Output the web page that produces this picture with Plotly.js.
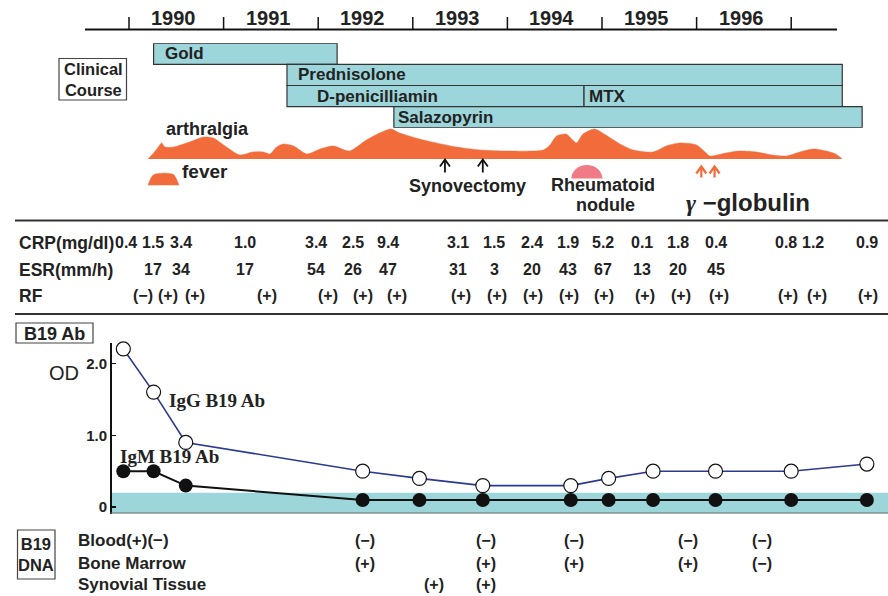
<!DOCTYPE html>
<html><head><meta charset="utf-8">
<script src="https://cdn.plot.ly/plotly-3.0.1.min.js"></script>
<style>html,body{margin:0;padding:0;background:#fff}#chart{width:888px;height:596px}</style>
</head><body><div id="chart"></div>
<script>
// ---------------- data ----------------
const years = [1990, 1991, 1992, 1993, 1994, 1995, 1996];
const yearBounds = [1990, 1991, 1992, 1993, 1994, 1995, 1996, 1997];

const drugs = ['Gold', 'Prednisolone', 'D-penicilliamin', 'MTX', 'Salazopyrin'];
const drugStart = [1990.26, 1991.67, 1991.67, 1994.81, 1992.80];
const drugEnd = [1992.20, 1997.54, 1994.81, 1997.54, 1997.75];
const drugRow = [0, 1, 2, 2, 3];

const arthDates = [1990.20, 1990.26, 1990.31, 1990.345, 1990.38, 1990.47, 1990.64, 1990.79, 1990.89, 1991.03,
  1991.17, 1991.31, 1991.42, 1991.49, 1991.56, 1991.63, 1991.74, 1991.88, 1992.02, 1992.16,
  1992.33, 1992.51, 1992.65, 1992.77, 1992.86, 1993.07, 1993.25, 1993.46, 1993.71, 1993.99,
  1994.38, 1994.45, 1994.52, 1994.62, 1994.69, 1994.73, 1994.80, 1994.92, 1995.04, 1995.19,
  1995.33, 1995.54, 1995.68, 1995.82, 1996.00, 1996.10, 1996.14, 1996.31, 1996.45, 1996.63,
  1996.80, 1996.95, 1997.09, 1997.23, 1997.37, 1997.47, 1997.54];
const arthLevel = [0, 6, 12, 16, 12, 12, 17, 22, 21, 12,
  4, 7, 7, 5, 12, 15, 13, 5, 10, 13,
  8, 19, 26, 30, 26, 20, 16, 12, 9, 8,
  9, 14, 23, 25, 19, 16, 25, 30, 24, 15,
  9, 7, 13, 16, 14, 6, 3, 6, 8, 7,
  4, 3, 7, 10, 8, 5, 0];

const feverDates = [1990.20, 1990.22, 1990.25, 1990.29, 1990.40, 1990.47, 1990.50, 1990.53];
const feverLevel = [0, 5, 10, 11.7, 12.3, 11, 6.7, 0];

const synovectomyDates = [1993.34, 1993.74];
const noduleDate = 1994.84;
const gammaDates = [1996.05, 1996.19];

const labDates = [1989.97, 1990.25, 1990.55, 1991.23, 1991.98, 1992.37, 1992.74, 1993.48, 1993.86,
  1994.26, 1994.64, 1995.01, 1995.42, 1995.80, 1996.21, 1996.95, 1997.23, 1997.80];
const crp = [0.4, 1.5, 3.4, 1.0, 3.4, 2.5, 9.4, 3.1, 1.5, 2.4, 1.9, 5.2, 0.1, 1.8, 0.4, 0.8, 1.2, 0.9];
const esr = [null, 17, 34, 17, 54, 26, 47, 31, 3, 20, 43, 67, 13, 20, 45, null, null, null];
const rfDates = [1990.15, 1990.41, 1990.70, 1991.46, 1992.10, 1992.47, 1992.83, 1993.51, 1993.89,
  1994.27, 1994.65, 1995.02, 1995.45, 1995.84, 1996.24, 1996.97, 1997.27, 1997.81];
const rf = ['(−)', '(+)', '(+)', '(+)', '(+)', '(+)', '(+)', '(+)', '(+)',
  '(+)', '(+)', '(+)', '(+)', '(+)', '(+)', '(+)', '(+)', '(+)'];

const abDates = [1989.94, 1990.26, 1990.60, 1992.47, 1993.07, 1993.74, 1994.67, 1995.07, 1995.54, 1996.20, 1997.00, 1997.80];
const igg = [2.2, 1.6, 0.9, 0.5, 0.4, 0.3, 0.3, 0.4, 0.5, 0.5, 0.5, 0.6];
const igm = [0.5, 0.5, 0.3, 0.1, 0.1, 0.1, 0.1, 0.1, 0.1, 0.1, 0.1, 0.1];
const cutoff = 0.2;

const dnaDates = [1992.49, 1993.22, 1993.77, 1994.70, 1995.91, 1996.69];
const blood = ['(−)', '', '(−)', '(−)', '(−)', '(−)'];
const marrow = ['(+)', '', '(+)', '(+)', '(+)', '(−)'];
const synovial = ['', '(+)', '(+)', '', '', ''];

// ---------------- layout helpers ----------------
const W = 888, H = 596;
const PXPERYEAR = 94.6, X0 = 1990 - 129 / PXPERYEAR, X1 = X0 + W / PXPERYEAR;
const xp = p => p / W;
const yp = p => 1 - p / H;
const F = 'Liberation Sans, Arial, sans-serif';
const SERIF = 'Liberation Serif, Times New Roman, serif';
const INK = '#222';
const TEAL = '#9dd6da';
const ORANGE = '#f26b3a';

function label(text, px, py, size, extra) {
  return Object.assign({
    text: text, xref: 'paper', yref: 'paper', x: xp(px), y: yp(py),
    showarrow: false, xanchor: 'center', yanchor: 'middle',
    font: { family: F, size: size, color: INK, weight: 700 }
  }, extra || {});
}
function dataText(text, date, py, size) {
  return {
    text: text, xref: 'x', yref: 'paper', x: date, y: yp(py),
    showarrow: false, xanchor: 'center', yanchor: 'middle',
    font: { family: F, size: size, color: INK, weight: 700 }
  };
}

const annotations = [];
const shapes = [];

function upArrow(date, tipPy, tailPy, color, width) {
  const hw = 5 / PXPERYEAR, depth = 7;
  shapes.push({ type: 'line', xref: 'x', yref: 'paper', x0: date, x1: date, y0: yp(tailPy), y1: yp(tipPy + 1), line: { color: color, width: width } });
  shapes.push({
    type: 'path', xref: 'x', yref: 'paper', line: { color: color, width: width },
    path: `M ${date - hw},${yp(tipPy + depth)} L ${date},${yp(tipPy)} L ${date + hw},${yp(tipPy + depth)}`
  });
}

// top time axis
shapes.push({ type: 'line', xref: 'paper', yref: 'paper', x0: xp(85), x1: xp(837), y0: yp(29.5), y1: yp(29.5), line: { color: '#111', width: 2 } });
yearBounds.forEach(b => shapes.push({ type: 'line', xref: 'x', yref: 'paper', x0: b, x1: b, y0: yp(17), y1: yp(29.5), line: { color: '#111', width: 1.5 } }));
years.forEach(y => annotations.push(dataText(String(y), y + 0.47, 18, 20)));

// clinical course box
shapes.push({ type: 'rect', xref: 'paper', yref: 'paper', x0: xp(59), x1: xp(126.5), y0: yp(100), y1: yp(58.5), line: { color: '#444', width: 1.2 }, fillcolor: 'white' });
annotations.push(label('Clinical<br>Course', 93, 79.5, 16.5));

// drug bar labels
const drugPad = { 'Gold': 9, 'Prednisolone': 9, 'D-penicilliamin': 28, 'MTX': 3, 'Salazopyrin': 2 };
drugs.forEach((d, i) => annotations.push({
  text: d, xref: 'x', yref: 'y2', x: drugStart[i], y: drugRow[i], xshift: drugPad[d],
  showarrow: false, xanchor: 'left', yanchor: 'middle',
  font: { family: F, size: 17, color: INK, weight: 700 }
}));

// arthralgia / fever labels
annotations.push(label('arthralgia', 207, 129, 18));
annotations.push(label('fever', 205, 171.5, 19));

// synovectomy arrows
synovectomyDates.forEach(d => upArrow(d, 159.5, 172.5, '#111', 1.8));
annotations.push(label('Synovectomy', 467, 186, 18));

// rheumatoid nodule (semicircle)
{
  const w = 15.5 / PXPERYEAR, k = 0.5523;
  const b = yp(178.5), t = yp(165), h = t - b, c = noduleDate;
  shapes.push({
    type: 'path', xref: 'x', yref: 'paper', fillcolor: '#f07a86', line: { width: 0 },
    path: `M ${c - w},${b} C ${c - w},${b + k * h} ${c - k * w},${t} ${c},${t} C ${c + k * w},${t} ${c + w},${b + k * h} ${c + w},${b} Z`
  });
}
annotations.push(label('Rheumatoid', 603, 185.5, 18));
annotations.push(label('nodule', 605, 205, 18));

// gamma globulin arrows
gammaDates.forEach(d => upArrow(d, 166.5, 177.5, ORANGE, 2.2));
annotations.push(label('<span style="font-family:Liberation Serif, serif"><i>γ</i></span> −globulin', 748, 202, 24));

// separators
shapes.push({ type: 'line', xref: 'paper', yref: 'paper', x0: xp(15), x1: 1, y0: yp(220.5), y1: yp(220.5), line: { color: '#333', width: 2 } });
shapes.push({ type: 'line', xref: 'paper', yref: 'paper', x0: xp(15), x1: 1, y0: yp(314), y1: yp(314), line: { color: '#333', width: 2 } });

// lab rows
const rowCRP = 243, rowESR = 269.5, rowRF = 296;
annotations.push(label('CRP(mg/dl)', 17, rowCRP, 17.5, { xanchor: 'left' }));
annotations.push(label('ESR(mm/h)', 17, rowESR, 17.5, { xanchor: 'left' }));
annotations.push(label('RF', 17, rowRF, 17.5, { xanchor: 'left' }));
labDates.forEach((d, i) => {
  annotations.push(dataText(crp[i].toFixed(1), d, rowCRP, 16));
  if (esr[i] !== null) annotations.push(dataText(String(esr[i]), d, rowESR, 16));
});
rfDates.forEach((d, i) => annotations.push(dataText(rf[i], d, rowRF, 16)));

// B19 Ab section
shapes.push({ type: 'rect', xref: 'paper', yref: 'paper', x0: xp(16), x1: xp(93), y0: yp(343), y1: yp(323), line: { color: '#444', width: 1.2 } });
annotations.push(label('B19 Ab', 54.5, 333.5, 18));
annotations.push(label('OD', 64, 373, 20, { font: { family: F, size: 20, color: INK, weight: 400 } }));
shapes.push({ type: 'rect', xref: 'paper', yref: 'y', layer: 'below', x0: xp(110), x1: 1, y0: -0.088, y1: cutoff, fillcolor: TEAL, line: { width: 0 } });
shapes.push({ type: 'line', xref: 'paper', yref: 'y', x0: xp(110), x1: 1, y0: -0.088, y1: -0.088, line: { color: '#666', width: 2 } });
annotations.push(label('IgG B19 Ab', 167, 401, 19, { xanchor: 'left', font: { family: SERIF, size: 19, color: INK, weight: 700 } }));
annotations.push(label('IgM B19 Ab', 118, 456.5, 19, { xanchor: 'left', font: { family: SERIF, size: 19, color: INK, weight: 700 } }));

// B19 DNA section
shapes.push({ type: 'rect', xref: 'paper', yref: 'paper', x0: xp(17.5), x1: xp(55), y0: yp(579), y1: yp(530), line: { color: '#444', width: 1.2 } });
annotations.push(label('B19<br>DNA', 36, 554.5, 16.5));
const rowBlood = 540.5, rowMarrow = 563.5, rowSyn = 584;
annotations.push(label('Blood(+)(−)', 76, rowBlood, 17, { xanchor: 'left' }));
annotations.push(label('Bone Marrow', 76, rowMarrow, 17, { xanchor: 'left' }));
annotations.push(label('Synovial Tissue', 76, rowSyn, 17, { xanchor: 'left' }));
dnaDates.forEach((d, i) => {
  if (blood[i]) annotations.push(dataText(blood[i], d, rowBlood, 16));
  if (marrow[i]) annotations.push(dataText(marrow[i], d, rowMarrow, 16));
  if (synovial[i]) annotations.push(dataText(synovial[i], d, rowSyn, 16));
});

// ---------------- traces ----------------
const traces = [
  {
    type: 'bar', orientation: 'h', xaxis: 'x', yaxis: 'y2',
    y: drugRow, base: drugStart, x: drugStart.map((s, i) => drugEnd[i] - s), width: 1,
    marker: { color: TEAL, line: { color: '#333', width: 1.2 } }, hoverinfo: 'skip'
  },
  {
    type: 'scatter', mode: 'lines', xaxis: 'x', yaxis: 'y3', x: arthDates, y: arthLevel,
    fill: 'tozeroy', fillcolor: ORANGE, line: { color: ORANGE, width: 0.5, shape: 'spline', smoothing: 0.7 }
  },
  {
    type: 'scatter', mode: 'lines', xaxis: 'x', yaxis: 'y4', x: feverDates, y: feverLevel,
    fill: 'tozeroy', fillcolor: ORANGE, line: { color: ORANGE, width: 0.5, shape: 'spline', smoothing: 0.6 }
  },
  {
    type: 'scatter', mode: 'lines+markers', xaxis: 'x', yaxis: 'y', x: abDates, y: igm, cliponaxis: false,
    line: { color: '#111', width: 2 }, marker: { color: '#111', size: 14, line: { width: 0 } }
  },
  {
    type: 'scatter', mode: 'lines+markers', xaxis: 'x', yaxis: 'y', x: abDates, y: igg, cliponaxis: false,
    line: { color: '#2b3990', width: 1.6 }, marker: { color: 'white', size: 14, line: { color: '#111', width: 1.2 } }
  }
];

const layout = {
  width: W, height: H, margin: { l: 0, r: 0, t: 0, b: 0 },
  paper_bgcolor: 'white', plot_bgcolor: 'rgba(0,0,0,0)', showlegend: false,
  font: { family: F, color: INK },
  xaxis: { domain: [0, 1], range: [X0, X1], visible: false, anchor: 'y' },
  yaxis: {
    domain: [yp(513.5), yp(343)], range: [-0.088, 2.283], anchor: 'free', position: xp(110),
    showline: true, linecolor: '#111', linewidth: 1.5, showgrid: false, zeroline: false,
    ticks: 'inside', ticklen: 4, tickcolor: '#111', tickwidth: 1.5,
    tickvals: [0, 1, 2], ticktext: ['0', '1.0', '2.0'],
    tickfont: { family: F, size: 15, color: INK, weight: 700 }
  },
  yaxis2: { domain: [yp(127.7), yp(43.3)], range: [3.5, -0.5], visible: false, anchor: 'x' },
  yaxis3: { domain: [yp(159), yp(119)], range: [0, 40], visible: false, anchor: 'x' },
  yaxis4: { domain: [yp(185.5), yp(165.5)], range: [0, 20], visible: false, anchor: 'x' },
  shapes: shapes, annotations: annotations
};

Plotly.newPlot('chart', traces, layout, { staticPlot: true, displayModeBar: false });
</script>
</body></html>
